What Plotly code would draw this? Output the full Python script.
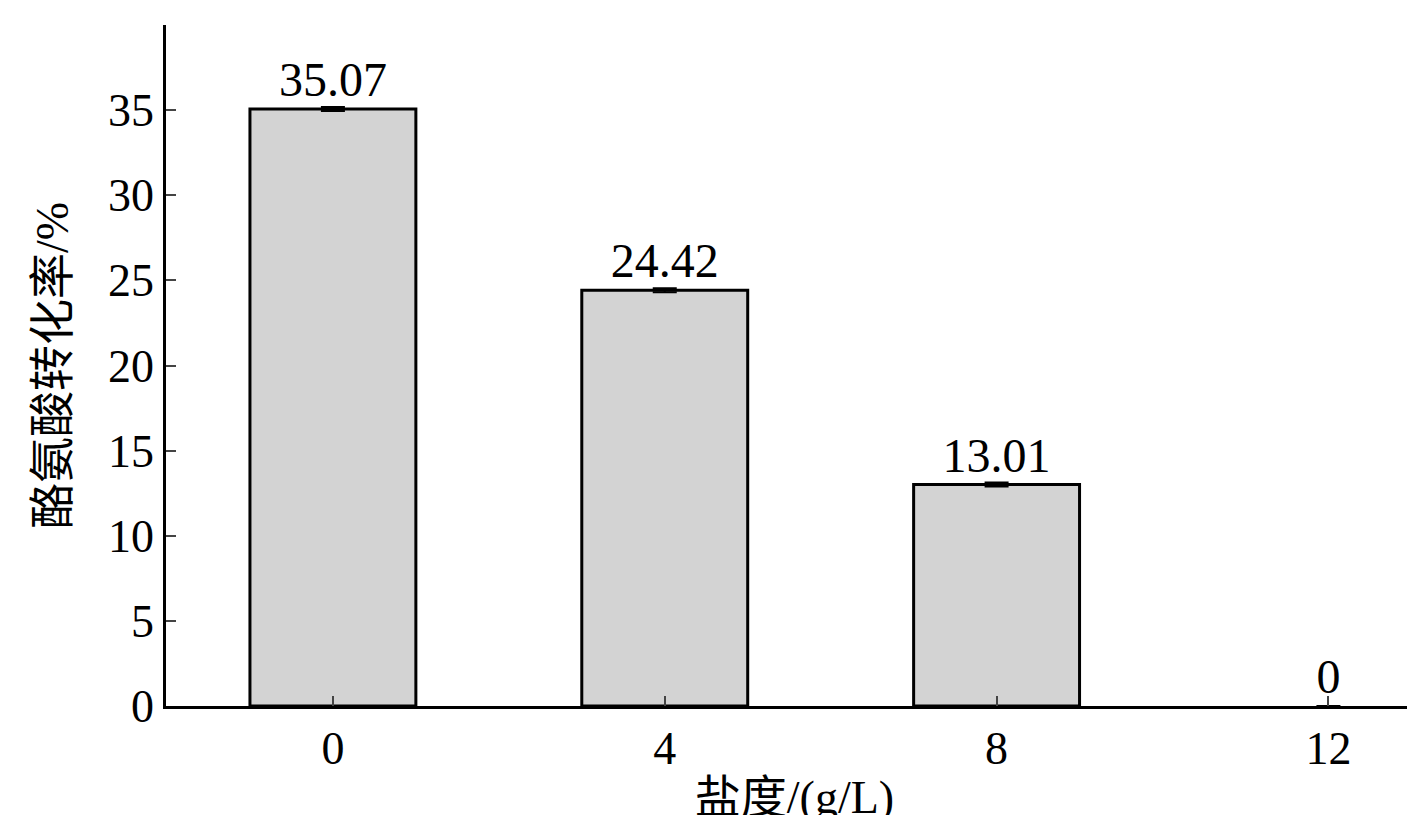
import plotly.graph_objects as go

categories = ["0", "4", "8", "12"]
values = [35.07, 24.42, 13.01, 0]
errors = [0.12, 0.12, 0.12, 0]
labels = ["35.07", "24.42", "13.01", "0"]
yticks = [0, 5, 10, 15, 20, 25, 30, 35, 40]

font = "Liberation Serif, Noto Sans CJK SC"
x = list(range(len(categories)))
fig = go.Figure()
fig.add_trace(go.Bar(
    x=x, y=values, width=0.5,
    marker=dict(color="#d3d3d3", line=dict(color="black", width=[3 if v > 0 else 0 for v in values])),
    error_y=dict(type="data", array=errors, color="black", thickness=2, width=12),
    text=labels, textposition="outside", cliponaxis=False,
    textfont=dict(family=font, size=48, color="black"),
))
fig.update_layout(
    width=1415, height=815, plot_bgcolor="white", paper_bgcolor="white",
    margin=dict(l=158, r=0, t=17, b=117), showlegend=False,
    font=dict(family=font, size=46, color="black"),
)
fig.update_xaxes(
    range=[-0.503, 3.285], tickvals=x, ticktext=categories,
    ticks="inside", ticklen=10, tickwidth=2, showline=True, linecolor="black", linewidth=2.5,
    showgrid=False, zeroline=False,
    title=dict(text="盐度/(g/L)", font=dict(size=46), standoff=10),
)
fig.update_yaxes(
    range=[0, 40], tickvals=yticks, ticks="inside", ticklen=10, tickwidth=2,
    showline=True, linecolor="black", linewidth=2.5, showgrid=False, zeroline=False,
    title=dict(text="酪氨酸转化率/%", font=dict(size=46), standoff=25),
)
fig.write_html("out.html")
